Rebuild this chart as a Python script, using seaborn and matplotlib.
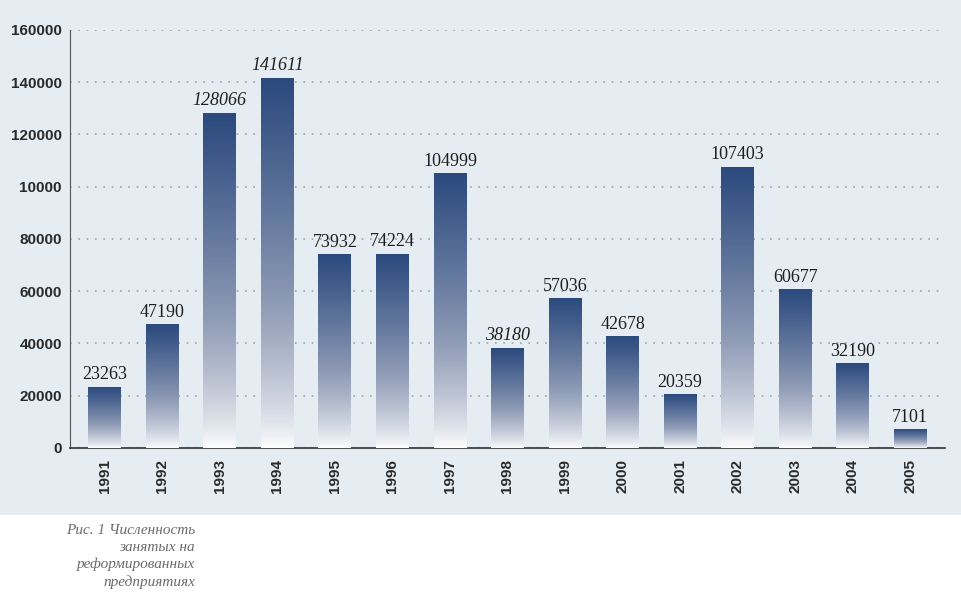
import numpy as np
import pandas as pd
import matplotlib
matplotlib.use("Agg")
import matplotlib.pyplot as plt
import seaborn as sns
from matplotlib.colors import LinearSegmentedColormap
from matplotlib.patches import Rectangle

years = ["1991", "1992", "1993", "1994", "1995", "1996", "1997", "1998",
         "1999", "2000", "2001", "2002", "2003", "2004", "2005"]
employed = [23263, 47190, 128066, 141611, 73932, 74224, 104999, 38180,
            57036, 42678, 20359, 107403, 60677, 32190, 7101]
italic_labels = ["1993", "1994", "1998"]
ytick_values = [0, 20000, 40000, 60000, 80000, 100000, 120000, 140000, 160000]
ytick_labels = ["0", "20000", "40000", "60000", "80000", "10000", "120000", "140000", "160000"]
caption = "Рис. 1 Численность\nзанятых на\nреформированных\nпредприятиях"

df = pd.DataFrame({"year": years, "employed": employed})

sns.set_style("white")
fig = plt.figure(figsize=(9.62, 6.12), dpi=100)
fig.patch.set_facecolor("white")

# light panel behind the chart
fig.add_artist(Rectangle((0, 0.158), 1, 0.842, transform=fig.transFigure,
                         facecolor="#e5edf2", edgecolor="none", zorder=0))

ax = fig.add_axes([0.073, 0.268, 0.909, 0.683])
ax.set_facecolor("none")

sns.barplot(data=df, x="year", y="employed", ax=ax, width=0.57,
            color="#2b4a7e", saturation=1, zorder=3)

# vertical gradient inside each bar: navy at top, white at bottom
cmap = LinearSegmentedColormap.from_list("fade", ["#ffffff", "#8d9ab5", "#2b4a7e"])
grad = np.linspace(0, 1, 256).reshape(-1, 1) ** 0.75
for p in ax.patches:
    x0, w, h = p.get_x(), p.get_width(), p.get_height()
    p.set_facecolor("none")
    p.set_edgecolor("none")
    ax.imshow(grad, cmap=cmap, origin="lower", aspect="auto",
              extent=[x0, x0 + w, 0, h], zorder=3)

for i, (yr, v) in enumerate(zip(years, employed)):
    ax.text(i, v + 1500, str(v), ha="center", va="bottom",
            fontsize=13, family="Liberation Serif", color="#1e1e1e",
            style="italic" if yr in italic_labels else "normal", zorder=4)

ax.set_xlim(-0.6, len(years) - 0.4)
ax.set_ylim(0, 160000)
ax.set_yticks(ytick_values)
ax.set_yticklabels(ytick_labels, fontsize=11, fontweight="bold",
                   family="Liberation Sans", color="#2a2a2a")
ax.set_xticks(range(len(years)))
ax.set_xticklabels(years, rotation=90, fontsize=11, fontweight="bold",
                   family="Liberation Sans", color="#2a2a2a")
ax.set_xlabel("")
ax.set_ylabel("")
ax.tick_params(axis="y", length=3, color="#555555", pad=3)
ax.tick_params(axis="x", length=0, pad=8)

ax.yaxis.grid(True, linestyle=(0, (1, 4)), color="#9aa4ad", linewidth=1.2, zorder=1)
ax.set_axisbelow(True)
for side in ["top", "right"]:
    ax.spines[side].set_visible(False)
ax.spines["left"].set_color("#555555")
ax.spines["bottom"].set_color("#333333")
ax.spines["bottom"].set_linewidth(1.2)

fig.text(0.203, 0.143, caption, ha="right", va="top", fontsize=11,
         family="Liberation Serif", style="italic", color="#6a6a6a",
         linespacing=1.35)

fig.savefig("out.png", dpi=100)
